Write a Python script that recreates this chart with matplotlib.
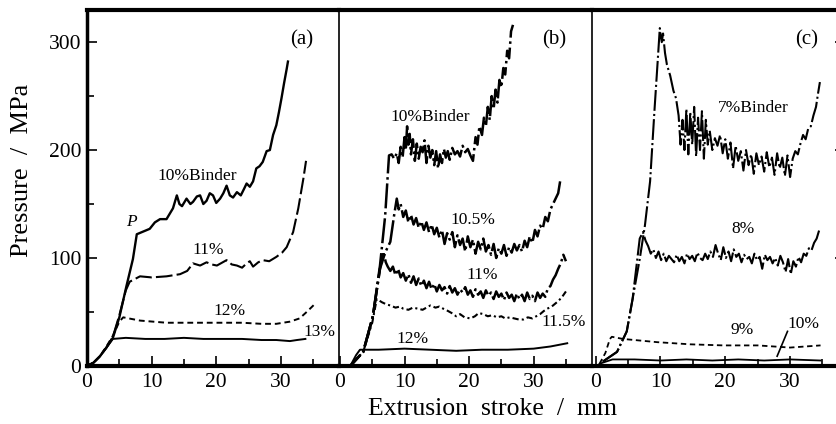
import numpy as np
import matplotlib
matplotlib.use("Agg")
import matplotlib.pyplot as plt

plt.rcParams['font.family'] = ['Liberation Serif', 'DejaVu Serif']

# ---------------- panel (a) ----------------
a_10_x = [0, 1, 2, 3, 4, 5, 6.1, 7.1, 7.7, 8.5, 9.7, 10.5, 11.3, 12.3, 13.3, 13.9, 14.3, 14.7,
          15.4, 16.0, 16.4, 17.0, 17.5, 18.0, 18.5, 19.0, 19.5, 20.0, 20.6, 21.1, 21.6, 22.1,
          22.6, 23.2, 23.8, 24.3, 24.7, 25.2, 25.7, 26.2, 26.7, 27.2, 27.8, 28.3, 28.8, 29.3,
          29.7, 30.1, 30.5, 30.9, 31.1]
a_10_y = [0, 3, 9, 17, 26, 45, 74, 99, 122, 124, 127, 133, 136, 136, 146, 158, 150, 148,
          155, 150, 152, 157, 158, 150, 153, 160, 158, 151, 155, 160, 167, 158,
          156, 161, 158, 164, 169, 166, 171, 183, 185, 189, 199, 200, 214, 223,
          235, 248, 262, 275, 282]

a_11_x = [0, 1, 2, 3, 4, 5, 6.0, 6.6, 8.2, 10, 12.3, 14.4, 15.5, 16.4, 17.5, 18.5, 19.3,
          20.1, 21.0, 21.6, 22.4, 23.2, 24.0, 24.7, 25.2, 25.7, 26.5, 27.2, 28.2, 29.3, 30.2,
          30.9, 31.9, 32.7, 33.5, 33.9]
a_11_y = [0, 3, 9, 17, 27, 47, 70, 78, 83, 82, 83, 85, 88, 95, 93, 96, 94,
          93, 96, 98, 94, 93, 91, 95, 97, 92, 96, 98, 97, 101, 105,
          110, 124, 146, 174, 190]

a_12_x = [0, 1, 2, 3, 4, 5.0, 5.6, 8.2, 12.3, 16, 20, 24, 27, 29.3, 31.4, 32.9, 34.0, 35.2]
a_12_y = [0, 3, 9, 18, 28, 41, 45, 42, 40, 40, 40, 40, 39, 39, 41, 44, 50, 57]

a_13_x = [0, 1, 2, 3, 4, 6, 9, 12, 15, 18, 21, 24, 27, 29.3, 31.4, 32.5, 33.8]
a_13_y = [0, 3, 9, 17, 25, 26, 25, 25, 26, 25, 25, 25, 24, 24, 23, 24, 25]

# ---------------- panel (b) ----------------
b_10_x = [0, 1.6, 3.6, 5.1, 6.2, 7.0, 7.6, 8.0, 8.4, 8.8, 9.1, 9.4, 9.7, 10.0, 10.2, 10.4,
          10.6, 10.8, 11.0, 11.3, 11.6, 11.9, 12.2, 12.5, 12.8, 13.1, 13.4, 13.7, 14.0, 14.3,
          14.6, 14.9, 15.2, 15.5, 15.8, 16.1, 16.4, 16.7, 17.0, 17.4, 17.8, 18.2, 18.6, 19.0,
          19.4, 19.8, 20.2, 20.6, 21.0, 21.3, 21.6, 22.0, 22.3, 22.6, 22.9, 23.2, 23.5, 23.8,
          24.1, 24.4, 24.7, 25.0, 25.3, 25.6, 25.9, 26.2, 26.5, 26.8]
b_10_y = [0, 0, 13, 46, 93, 139, 195, 196, 192, 197, 188, 203, 193, 212, 200, 222,
          205, 215, 196, 210, 190, 206, 192, 203, 198, 209, 188, 204, 193, 200,
          186, 199, 183, 196, 188, 201, 193, 199, 191, 202, 196, 199, 194, 204,
          198, 201, 195, 190, 212, 205, 222, 214, 230, 222, 240, 228, 250, 238,
          256, 244, 265, 258, 276, 270, 292, 285, 310, 316]

b_105_x = [0, 1.6, 3.6, 5.1, 6.2, 7.0, 7.8, 8.4, 8.8, 9.1, 9.4, 9.8, 10.2, 10.6, 11.0,
           11.4, 11.8, 12.2, 12.6, 13.0, 13.4, 13.8, 14.2, 14.6, 15.0, 15.4, 15.8, 16.2,
           16.6, 17.0, 17.4, 17.8, 18.2, 18.6, 19.0, 19.4, 19.8, 20.2, 20.6, 21.0, 21.4,
           21.8, 22.2, 22.6, 23.0, 23.4, 23.8, 24.2, 24.6, 25.0, 25.4, 25.8, 26.2, 26.6,
           27.0, 27.4, 27.8, 28.2, 28.6, 29.0, 29.4, 29.8, 30.2, 30.6, 31.0, 31.4, 31.8,
           32.2, 32.6, 33.0, 33.4, 33.8, 34.1]
b_105_y = [0, 0, 13, 46, 90, 105, 115, 140, 155, 145, 150, 138, 144, 133, 140,
           131, 137, 128, 134, 126, 133, 124, 131, 122, 128, 119, 126, 113,
           123, 117, 124, 110, 121, 112, 118, 106, 120, 110, 117, 104, 115,
           108, 118, 106, 112, 103, 113, 100, 109, 104, 112, 102, 110, 105,
           113, 107, 112, 106, 116, 110, 120, 114, 126, 120, 130, 127, 138,
           134, 145, 150, 155, 160, 171]

b_11_x = [0, 1.6, 3.6, 5.1, 6.2, 6.7, 7.1, 7.4, 7.8, 8.2, 8.6, 9.0, 9.4, 9.8, 10.2, 10.6,
          11.0, 11.4, 11.8, 12.2, 12.6, 13.0, 13.4, 13.8, 14.2, 14.6, 15.0, 15.4, 15.8,
          16.2, 16.6, 17.0, 17.4, 17.8, 18.2, 18.6, 19.0, 19.4, 19.8, 20.2, 20.6, 21.0,
          21.4, 21.8, 22.2, 22.6, 23.0, 23.4, 23.8, 24.2, 24.6, 25.0, 25.4, 25.8, 26.2,
          26.6, 27.0, 27.4, 27.8, 28.2, 28.6, 29.0, 29.4, 29.8, 30.2, 30.6, 31.0, 31.4,
          31.8, 32.2, 32.6, 33.0, 33.4, 33.8, 34.2, 34.6, 35.0]
b_11_y = [0, 0, 13, 46, 90, 106, 96, 92, 88, 92, 84, 90, 82, 86, 79, 85,
          77, 83, 75, 81, 74, 79, 72, 78, 71, 76, 69, 75, 70,
          73, 67, 74, 68, 72, 66, 71, 68, 73, 66, 70, 64, 71,
          66, 69, 63, 70, 65, 68, 62, 69, 64, 67, 61, 68, 63,
          66, 60, 67, 62, 66, 60, 68, 62, 65, 60, 68, 63, 67,
          64, 72, 74, 80, 84, 90, 95, 103, 97]

b_115_x = [0, 1.6, 3.6, 5.0, 5.7, 6.5, 7.2, 7.8, 8.6, 9.3, 9.8, 10.6, 11.3, 12.1, 12.8,
           13.4, 14.0, 14.8, 15.4, 16.0, 16.7, 17.3, 18.0, 18.6, 19.3, 20.2, 20.9, 21.5,
           22.2, 22.9, 23.6, 24.3, 25.0, 25.6, 26.3, 27.0, 27.7, 28.4, 29.1, 29.8, 30.4,
           31.0, 31.6, 32.1, 32.8, 33.6, 34.3, 35.0]
b_115_y = [0, 0, 13, 40, 62, 59, 57, 56, 54, 55, 53, 52, 54, 53, 52,
           54, 56, 54, 55, 53, 51, 49, 46, 48, 45, 44, 46, 49,
           48, 46, 47, 45, 46, 44, 45, 44, 43, 43, 45, 44, 46,
           48, 51, 53, 55, 59, 63, 69]

b_12_x = [0, 1.6, 2.5, 3.1, 6, 10, 14, 18, 22, 26, 30, 32.6, 35.2]
b_12_y = [0, 0, 10, 15, 15, 16, 15, 14, 15, 15, 16, 18, 21]

# ---------------- panel (c) ----------------
c_7_x = [1.1, 3.3, 4.8, 5.7, 6.8, 7.6, 8.4, 9.1, 9.6, 9.9, 10.2, 10.4, 10.7, 11.0, 11.5,
         12.0, 12.4, 12.8, 13.1, 13.4, 13.7, 14.0, 14.3, 14.6, 14.9, 15.2, 15.5, 15.8, 16.1,
         16.4, 16.7, 17.0, 17.3, 17.6, 18.0, 18.4, 18.8, 19.2, 19.6, 20.0, 20.4, 20.8, 21.2,
         21.6, 22.0, 22.4, 22.8, 23.2, 23.6, 24.0, 24.4, 24.8, 25.2, 25.6, 26.0, 26.4, 26.8,
         27.2, 27.6, 28.0, 28.4, 28.8, 29.2, 29.6, 30.0, 30.4, 30.8, 31.2, 31.6, 32.0, 32.4,
         32.8, 33.2, 33.6, 34.0, 34.3, 34.6]
c_7_y = [4, 13, 32, 62, 99, 130, 171, 239, 285, 313, 300, 308, 290, 279, 269,
         255, 248, 232, 205, 228, 200, 238, 196, 235, 205, 240, 194, 230, 200,
         236, 192, 228, 205, 218, 200, 211, 204, 214, 197, 210, 192, 207, 183,
         204, 190, 199, 181, 200, 186, 196, 178, 197, 186, 194, 180, 198, 184,
         193, 177, 197, 183, 193, 176, 195, 175, 192, 199, 196, 206, 214, 210,
         220, 222, 232, 240, 252, 263]

c_8_x = [1.1, 3.3, 4.8, 5.7, 6.8, 7.3, 7.7, 8.1, 8.5, 8.9, 9.3, 9.7, 10.1, 10.5, 10.9,
         11.3, 11.7, 12.1, 12.5, 12.9, 13.3, 13.7, 14.1, 14.5, 14.9, 15.3, 15.7, 16.1, 16.5,
         16.9, 17.3, 17.7, 18.1, 18.5, 18.9, 19.3, 19.7, 20.1, 20.5, 20.9, 21.3, 21.7, 22.1,
         22.5, 22.9, 23.3, 23.7, 24.1, 24.5, 24.9, 25.3, 25.7, 26.1, 26.5, 26.9, 27.3, 27.7,
         28.1, 28.5, 28.9, 29.3, 29.7, 30.1, 30.5, 30.9, 31.3, 31.7, 32.1, 32.5, 32.9, 33.3,
         33.7, 34.1, 34.5]
c_8_y = [4, 13, 32, 62, 118, 124, 116, 111, 104, 108, 100, 106, 98, 104, 97,
         102, 99, 96, 103, 97, 101, 95, 104, 99, 102, 97, 105, 100, 98,
         104, 99, 106, 101, 112, 104, 98, 110, 100, 106, 97, 108, 101, 104,
         96, 103, 99, 101, 95, 104, 98, 101, 90, 103, 98, 101, 95, 100,
         93, 102, 96, 87, 99, 85, 97, 92, 101, 96, 104, 102, 109, 107,
         114, 118, 126]

c_9_x = [0.6, 1.5, 2.2, 2.5, 4.2, 9.5, 14.6, 19.7, 25.0, 30.0, 34.7]
c_9_y = [2, 12, 25, 27, 25, 22, 20, 19, 19, 17, 19]

c_10_x = [0.6, 2.6, 6, 10, 14, 18, 22, 26, 30, 34.7]
c_10_y = [2, 6, 6, 5, 6, 5, 6, 5, 6, 5]

fig = plt.figure(figsize=(8.37, 4.24), dpi=100)
bot, hgt = 0.137, 0.840
ax_a = fig.add_axes([0.104, bot, 0.301, hgt])
ax_b = fig.add_axes([0.405, bot, 0.302, hgt])
ax_c = fig.add_axes([0.707, bot, 0.302, hgt])

k = 'black'
dd = (0, (10, 1.5, 1, 1.5))
ax_a.plot(a_10_x, a_10_y, color=k, lw=1.7, ls='-')
ax_a.plot(a_11_x, a_11_y, color=k, lw=1.5, ls=(0, (8, 2)))
ax_a.plot(a_12_x, a_12_y, color=k, lw=1.4, ls=(0, (3, 2)))
ax_a.plot(a_13_x, a_13_y, color=k, lw=1.4, ls='-')

ax_b.plot(b_10_x, b_10_y, color=k, lw=1.8, ls=dd)
ax_b.plot(b_105_x, b_105_y, color=k, lw=1.8, ls=dd)
ax_b.plot(b_11_x, b_11_y, color=k, lw=1.8, ls=dd)
ax_b.plot(b_115_x, b_115_y, color=k, lw=1.5, ls=(0, (3, 1.5, 1, 1.5)))
ax_b.plot(b_12_x, b_12_y, color=k, lw=1.4, ls='-')

ax_c.plot(c_7_x, c_7_y, color=k, lw=1.5, ls=dd)
ax_c.plot(c_8_x, c_8_y, color=k, lw=1.5, ls=dd)
ax_c.plot(c_9_x, c_9_y, color=k, lw=1.3, ls=(0, (3, 2)))
ax_c.plot(c_10_x, c_10_y, color=k, lw=1.3, ls='-')
ax_c.plot([28, 29.6], [9, 32], color=k, lw=1.2)

fs = 12.5
ax_a.text(17.0, 176, '10%Binder', fontsize=fs, ha='center', va='center')
ax_a.text(6.9, 133, 'P', fontsize=fs, style='italic', ha='center', va='center')
ax_a.text(18.7, 107, '11%', fontsize=fs, ha='center', va='center')
ax_a.text(22.1, 51, '12%', fontsize=fs, ha='center', va='center')
ax_a.text(35.9, 31, '13%', fontsize=fs, ha='center', va='center', clip_on=False)

ax_b.text(14, 231, '10%Binder', fontsize=fs, ha='center', va='center')
ax_b.text(20.6, 135, '10.5%', fontsize=fs, ha='center', va='center')
ax_b.text(22, 84, '11%', fontsize=fs, ha='center', va='center')
ax_b.text(34.6, 41, '11.5%', fontsize=fs, ha='center', va='center')
ax_b.text(11.3, 25, '12%', fontsize=fs, ha='center', va='center')

ax_c.text(24.3, 239, '7%Binder', fontsize=fs, ha='center', va='center')
ax_c.text(22.8, 127, '8%', fontsize=fs, ha='center', va='center')
ax_c.text(22.6, 33, '9%', fontsize=fs, ha='center', va='center')
ax_c.text(32.1, 39, '10%', fontsize=fs, ha='center', va='center')

for ax, lab in [(ax_a, '(a)'), (ax_b, '(b)'), (ax_c, '(c)')]:
    ax.text(0.85, 0.915, lab, transform=ax.transAxes, fontsize=15, ha='center', va='center')

ax_a.set_xlim(0, 39)
ax_b.set_xlim(-0.15, 39)
ax_c.set_xlim(-0.6, 38.4)

for ax in [ax_a, ax_b, ax_c]:
    ax.set_ylim(0, 330)
    ax.set_xticks([0, 10, 20, 30])
    ax.set_xticks([5, 15, 25, 35], minor=True)
    ax.set_yticks([0, 100, 200, 300])
    ax.set_yticks([50, 150, 250], minor=True)
    ax.tick_params(axis='x', which='both', direction='in', labelsize=15.5, pad=5, width=1.2)
    ax.tick_params(axis='x', which='major', length=7)
    ax.tick_params(axis='x', which='minor', length=5)
    ax.spines['top'].set_linewidth(3)
    ax.spines['bottom'].set_linewidth(3)
    ax.spines['right'].set_visible(False)
    ax.spines['left'].set_linewidth(1.2)

ax_a.spines['left'].set_linewidth(2.5)
ax_a.tick_params(axis='y', which='both', direction='in', labelsize=15.5, width=1.2, pad=4)
ax_a.tick_params(axis='y', which='major', length=7)
ax_a.tick_params(axis='y', which='minor', length=5)
for ax in [ax_b, ax_c]:
    ax.tick_params(axis='y', which='both', left=False, labelleft=False)
ax_c.spines['right'].set_visible(True)
ax_c.spines['right'].set_linewidth(2.5)
ax_c.tick_params(axis='y', which='both', right=True, direction='in', width=1.2)
ax_c.tick_params(axis='y', which='major', length=7)
ax_c.tick_params(axis='y', which='minor', length=5)

ax_a.set_ylabel('Pressure  /  MPa', fontsize=19)
ax_a.yaxis.set_label_coords(-0.215, 0.55)
fig.text(0.588, 0.036, 'Extrusion  stroke  /  mm', fontsize=18.5, ha='center', va='center')

fig.savefig('out.png', dpi=100)
